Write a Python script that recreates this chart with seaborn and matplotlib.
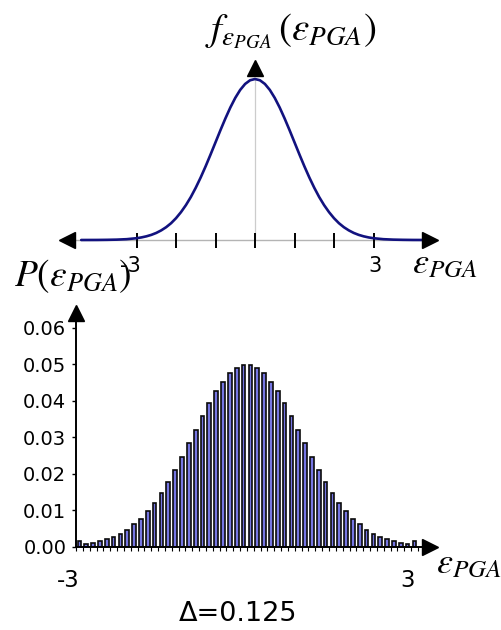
import matplotlib
matplotlib.use("Agg")
import matplotlib.pyplot as plt
import seaborn as sns

# ---- data -------------------------------------------------------------
# standard normal density of epsilon_PGA (upper panel)
eps_grid = [-4.4, -4.0, -3.75, -3.5, -3.25, -3.0, -2.875, -2.75, -2.625, -2.5,
            -2.375, -2.25, -2.125, -2.0, -1.875, -1.75, -1.625, -1.5, -1.375,
            -1.25, -1.125, -1.0, -0.875, -0.75, -0.625, -0.5, -0.375, -0.25,
            -0.125, 0.0, 0.125, 0.25, 0.375, 0.5, 0.625, 0.75, 0.875, 1.0,
            1.125, 1.25, 1.375, 1.5, 1.625, 1.75, 1.875, 2.0, 2.125, 2.25,
            2.375, 2.5, 2.625, 2.75, 2.875, 3.0, 3.25, 3.5, 3.75, 4.0, 4.5]
pdf_vals = [0.0000, 0.0001, 0.0004, 0.0009, 0.0020, 0.0044, 0.0064, 0.0091,
            0.0127, 0.0175, 0.0238, 0.0317, 0.0416, 0.0540, 0.0689, 0.0863,
            0.1064, 0.1295, 0.1550, 0.1826, 0.2119, 0.2420, 0.2721, 0.3011,
            0.3282, 0.3521, 0.3719, 0.3867, 0.3958, 0.3989, 0.3958, 0.3867,
            0.3719, 0.3521, 0.3282, 0.3011, 0.2721, 0.2420, 0.2119, 0.1826,
            0.1550, 0.1295, 0.1064, 0.0863, 0.0689, 0.0540, 0.0416, 0.0317,
            0.0238, 0.0175, 0.0127, 0.0091, 0.0064, 0.0044, 0.0020, 0.0009,
            0.0004, 0.0001, 0.0000]
axis_ticks = [-3, -2, -1, 0, 1, 2, 3]

# discretised probabilities, bin width 0.125 (lower panel, tails lumped)
bin_prob = [0.0016, 0.0007, 0.0010, 0.0015, 0.0020, 0.0027, 0.0034, 0.0047,
            0.0061, 0.0077, 0.0097, 0.0121, 0.0148, 0.0177, 0.0211, 0.0246,
            0.0283, 0.0321, 0.0358, 0.0393, 0.0426, 0.0452, 0.0475, 0.0489,
            0.0497, 0.0497, 0.0489, 0.0475, 0.0452, 0.0426, 0.0393, 0.0358,
            0.0321, 0.0283, 0.0246, 0.0211, 0.0177, 0.0148, 0.0121, 0.0098,
            0.0077, 0.0062, 0.0047, 0.0034, 0.0027, 0.0020, 0.0016, 0.0010,
            0.0007, 0.0016]
bin_index = list(range(len(bin_prob)))
y_ticks = [0.00, 0.01, 0.02, 0.03, 0.04, 0.05, 0.06]
y_tick_labels = ["0.00", "0.01", "0.02", "0.03", "0.04", "0.05", "0.06"]
x_end_labels = ["-3", "3"]
delta_text = "Δ=0.125"

# ---- figure -----------------------------------------------------------
sns.set_theme(style="white")
plt.rcParams["font.family"] = ["DejaVu Sans"]
plt.rcParams["mathtext.fontset"] = "stix"
plt.rcParams["text.color"] = "black"
plt.rcParams["xtick.color"] = "black"
plt.rcParams["ytick.color"] = "black"
plt.rcParams["xtick.labelcolor"] = "black"
plt.rcParams["ytick.labelcolor"] = "black"

W, H = 501, 630
fig = plt.figure(figsize=(W / 100, H / 100), dpi=100)


def fx(px):
    return px / W


def fy(py):
    return 1 - py / H


# ---- upper panel: density ---------------------------------------------
ax1 = fig.add_axes([fx(40), fy(290), (480 - 40) / W, (290 - 50) / H])
ax1.set_xlim(-5.443, 5.696)
ax1.set_ylim(-0.1239, 0.4708)
ax1.axis("off")

ax1.plot([-4.76, 4.42], [0, 0], color="#b4b4b4", lw=1.0, zorder=1)
ax1.plot([0, 0], [0, max(pdf_vals)], color="#cccccc", lw=0.9, zorder=1)
ax1.vlines(axis_ticks, -0.0198, 0.0173, color="black", lw=1.4, zorder=2)
sns.lineplot(x=eps_grid, y=pdf_vals, ax=ax1, color="#12127f", lw=1.9,
             zorder=3)
ax1.plot([-4.76], [0], marker="<", ms=11, color="black", zorder=4)
ax1.plot([4.42], [0], marker=">", ms=11, color="black", zorder=4)
ax1.plot([0], [0.4274], marker="^", ms=11, color="black", zorder=4)
ax1.text(-3 + 0.12, -0.040, x_end_labels[0], ha="right", va="top",
         fontsize=15, color="black")
ax1.text(3 + 0.05, -0.040, x_end_labels[1], ha="center", va="top",
         fontsize=15, color="black")

fig.text(fx(291), fy(40), r"$f_{\varepsilon_{PGA}}\,(\varepsilon_{PGA})$",
         ha="center", va="baseline", fontsize=28, color="black")
fig.text(fx(412), fy(273), r"$\varepsilon_{PGA}$", ha="left",
         va="baseline", fontsize=26, color="black")

# ---- lower panel: discretised probabilities ---------------------------
ax2 = fig.add_axes([fx(76), fy(546.7), (422 - 76) / W, (546.7 - 318) / H])
sns.barplot(x=bin_index, y=bin_prob, ax=ax2, color="#7676e2",
            saturation=1, edgecolor="#0a0a0a", linewidth=1.2, width=0.54)
ax2.set_xlim(-0.48, 50.1)
ax2.set_ylim(0, 0.0627)
ax2.set_xlabel("")
ax2.set_ylabel("")
for side in ("top", "right"):
    ax2.spines[side].set_visible(False)
for side in ("left", "bottom"):
    ax2.spines[side].set_color("black")
    ax2.spines[side].set_linewidth(1.4)

ax2.set_yticks(y_ticks)
ax2.set_yticklabels(y_tick_labels, fontsize=14)
ax2.tick_params(axis="y", direction="out", length=3, width=1,
                color="black", labelcolor="black", pad=4, left=True)

ax2.set_xticks([bin_index[0], bin_index[-1]])
ax2.set_xticklabels(x_end_labels, fontsize=16.5)
for lbl in ax2.get_xticklabels():
    lbl.set_ha("right")
ax2.set_xticks([i + 0.5 for i in range(-1, len(bin_prob))], minor=True)
ax2.tick_params(axis="x", which="major", length=0, pad=16,
                labelcolor="black")
ax2.tick_params(axis="x", which="minor", direction="out", length=3,
                width=0.8, color="black", bottom=True)

ax2.plot([1.0217], [0], marker=">", ms=11, color="black",
         transform=ax2.transAxes, clip_on=False)
ax2.plot([0], [1.0197], marker="^", ms=11, color="black",
         transform=ax2.transAxes, clip_on=False)

fig.text(fx(14), fy(286), r"$P(\varepsilon_{PGA})$", ha="left",
         va="baseline", fontsize=27, color="black")
fig.text(fx(436), fy(573), r"$\varepsilon_{PGA}$", ha="left",
         va="baseline", fontsize=26, color="black")
fig.text(fx(238), fy(614), delta_text, ha="center", va="center",
         fontsize=19.5, color="black")

fig.savefig("out.png", dpi=100)
